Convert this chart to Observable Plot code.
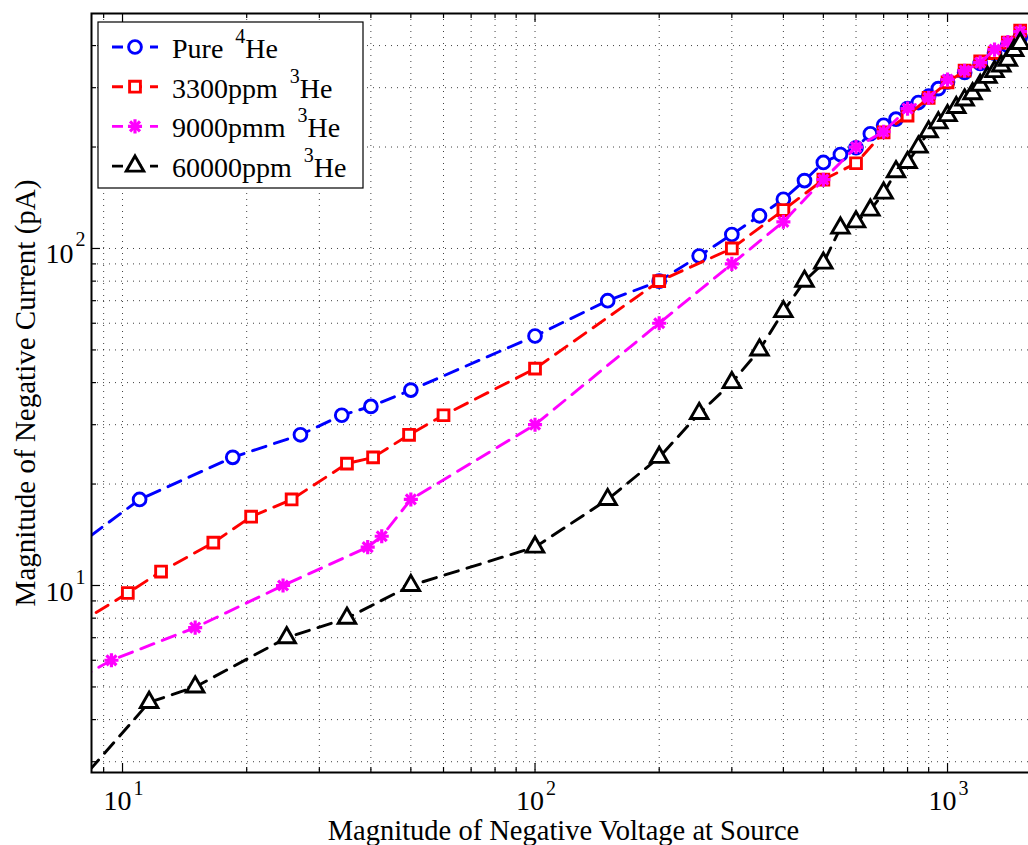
<!DOCTYPE html>
<html>
<head>
<meta charset="utf-8">
<script src="https://cdn.jsdelivr.net/npm/d3@7"></script>
<script src="https://cdn.jsdelivr.net/npm/@observablehq/plot@0.6"></script>
<style>
  html, body { margin: 0; padding: 0; background: #fff; overflow: hidden; }
  #chart svg { max-width: none !important; }
</style>
</head>
<body>
<div id="chart"></div>
<script>
// Measured negative current vs. source voltage for four helium mixtures.
const pureVoltage = [5, 11, 18.5, 27, 34, 40, 50, 100, 150, 200, 250, 300, 350, 400, 450, 500, 550, 600, 650, 700, 750, 800, 850, 900, 950, 1000, 1100, 1200, 1300, 1400, 1500];
const pureCurrent = [8.8, 18, 24, 28, 32, 34, 38, 55, 70, 80, 95, 110, 125, 140, 159, 180, 190, 199, 219, 232, 242, 260, 271, 283, 298, 312, 333, 354, 380, 400, 423];

const mix3300Voltage = [5, 10.3, 12.4, 16.6, 20.5, 25.7, 35, 40.5, 49.5, 60, 100, 200, 300, 400, 500, 600, 700, 800, 900, 1000, 1100, 1200, 1300, 1400, 1500];
const mix3300Current = [5.5, 9.5, 11, 13.4, 16, 18, 23, 24, 28, 32, 44, 80, 100, 130, 160, 179, 221, 248, 280, 311, 337, 359, 380, 408, 443];

const mix9000Voltage = [5, 9.4, 15, 24.5, 39.3, 42.5, 50, 100, 200, 300, 400, 500, 600, 700, 800, 900, 1000, 1100, 1200, 1300, 1400, 1500];
const mix9000Current = [3.9, 6, 7.5, 10, 13, 14, 18, 30, 60, 90, 120, 160, 200, 222, 260, 280, 317, 337, 356, 389, 410, 440];

const mix60000Voltage = [5, 11.6, 15, 25, 35, 50, 100, 150, 200, 250, 300, 350, 400, 450, 500, 550, 600, 650, 700, 750, 800, 850, 900, 950, 1000, 1050, 1100, 1150, 1200, 1250, 1300, 1350, 1400, 1450, 1500];
const mix60000Current = [1.39, 4.5, 5, 7, 8, 10, 13, 18, 24, 32.4, 40, 50, 65, 80, 90.5, 115, 120, 130, 146, 169, 180, 200, 222, 236, 248, 262, 276, 288, 305, 322, 335, 348, 362, 387, 406];

const legendNames = ["Pure", "3300ppm", "9000pmm", "60000ppm"];
const legendIsotopes = ["4", "3", "3", "3"];
const seriesColors = ["#0000ff", "#ff0000", "#ff00ff", "#000000"];

// Log axis ticks and grid
const xMajor = [10, 100, 1000];
const xMinor = [9, 20, 30, 40, 50, 60, 70, 80, 90, 200, 300, 400, 500, 600, 700, 800, 900];
const yMajor = [10, 100];
const yMinor = [3, 4, 5, 6, 7, 8, 9, 20, 30, 40, 50, 60, 70, 80, 90, 200, 300, 400];

const xLabel = "Magnitude of Negative Voltage at Source";
const yLabel = "Magnitude of Negative Current (pA)";

const rows = (vs, cs) => vs.map((v, i) => ({v, c: cs[i]}));
const series = [
  {rows: rows(pureVoltage, pureCurrent), color: seriesColors[0], kind: "circle"},
  {rows: rows(mix3300Voltage, mix3300Current), color: seriesColors[1], kind: "square"},
  {rows: rows(mix9000Voltage, mix9000Current), color: seriesColors[2], kind: "star"},
  {rows: rows(mix60000Voltage, mix60000Current), color: seriesColors[3], kind: "triangle"}
];

const W = 1040, H = 845;
const margin = {top: 13, right: 5, bottom: 73, left: 91};
const frameW = W - margin.left - margin.right;
const frameH = H - margin.top - margin.bottom;

const LW = 2.9;
const dash = "14,9";
const markerR = {circle: 6.4, square: 6.1, triangle: 6.5};
const starR = 4.6;

function markerMarks(s) {
  const base = {x: "v", y: "c", stroke: s.color, strokeWidth: LW, clip: true};
  if (s.kind === "star") {
    return [
      Plot.dot(s.rows, {...base, symbol: "plus", r: starR, fill: "none", strokeWidth: 3.2}),
      Plot.dot(s.rows, {...base, symbol: "times", r: starR, fill: "none", strokeWidth: 3.2}),
      Plot.dot(s.rows, {...base, symbol: "circle", r: 3.2, fill: s.color, strokeWidth: 1})
    ];
  }
  return [Plot.dot(s.rows, {...base, symbol: s.kind, r: markerR[s.kind], fill: "white"})];
}

const gridStyle = {stroke: "#000", strokeOpacity: 0.75, strokeWidth: 1, strokeDasharray: "1,5"};
const tickStyle = {stroke: "#000", strokeWidth: 1.2};
const serif = "'Liberation Serif', 'Times New Roman', serif";

const svg = Plot.plot({
  width: W,
  height: H,
  marginTop: margin.top,
  marginRight: margin.right,
  marginBottom: margin.bottom,
  marginLeft: margin.left,
  style: {fontFamily: serif, background: "white", color: "black", maxWidth: "none"},
  x: {type: "log", domain: [8.41, 1634], axis: null},
  y: {type: "log", domain: [2.787, 498], axis: null},
  marks: [
    Plot.ruleX([...xMajor, ...xMinor], {x: d => d, ...gridStyle}),
    Plot.ruleY([...yMajor, ...yMinor], {y: d => d, ...gridStyle}),
    // inward ticks on bottom, top and left edges
    Plot.ruleX(xMinor, {x: d => d, insetTop: frameH - 5, ...tickStyle}),
    Plot.ruleX(xMinor, {x: d => d, insetBottom: frameH - 5, ...tickStyle}),
    Plot.ruleX(xMajor, {x: d => d, insetTop: frameH - 9, ...tickStyle}),
    Plot.ruleX(xMajor, {x: d => d, insetBottom: frameH - 9, ...tickStyle}),
    Plot.ruleY(yMinor, {y: d => d, insetRight: frameW - 5, ...tickStyle}),
    Plot.ruleY(yMajor, {y: d => d, insetRight: frameW - 9, ...tickStyle}),
    ...series.flatMap(s => [
      Plot.line(s.rows, {x: "v", y: "c", stroke: s.color, strokeWidth: LW, strokeDasharray: dash, clip: true}),
      ...markerMarks(s)
    ]),
    Plot.frame({stroke: "black", strokeWidth: 2}),
    // tick labels as 10 with superscript exponent
    Plot.text(xMajor, {x: d => d, text: () => "10", frameAnchor: "bottom", textAnchor: "end", lineAnchor: "bottom", dx: 9, dy: 37, fontSize: 28}),
    Plot.text(xMajor, {x: d => d, text: d => String(Math.round(Math.log10(d))), frameAnchor: "bottom", textAnchor: "start", lineAnchor: "bottom", dx: 11, dy: 22, fontSize: 20}),
    Plot.text(yMajor, {y: d => d, text: () => "10", frameAnchor: "left", textAnchor: "end", lineAnchor: "bottom", dx: -18, dy: 15, fontSize: 28}),
    Plot.text(yMajor, {y: d => d, text: d => String(Math.round(Math.log10(d))), frameAnchor: "left", textAnchor: "start", lineAnchor: "bottom", dx: -16, dy: -2, fontSize: 20}),
    Plot.text([xLabel], {text: d => d, frameAnchor: "bottom", textAnchor: "middle", lineAnchor: "bottom", dy: 67, fontSize: 28.5}),
    Plot.text([yLabel], {text: d => d, frameAnchor: "left", textAnchor: "middle", rotate: -90, lineAnchor: "bottom", dx: -57, fontSize: 29})
  ]
});
svg.style.maxWidth = "none";

// Legend box in the upper-left corner of the axes
const legend = d3.select(svg).append("g")
  .attr("font-family", serif)
  .attr("text-anchor", "start");
const box = {x: 98, y: 22, w: 265, h: 166};
legend.append("rect")
  .attr("x", box.x).attr("y", box.y).attr("width", box.w).attr("height", box.h)
  .attr("fill", "white").attr("stroke", "black").attr("stroke-width", 1.2);

const symbolFor = {circle: d3.symbolCircle, square: d3.symbolSquare, triangle: d3.symbolTriangle};
series.forEach((s, i) => {
  const cy = box.y + 25 + i * 39.7;
  const cx = 135;
  legend.append("line")
    .attr("x1", 112).attr("x2", 158).attr("y1", cy).attr("y2", cy)
    .attr("stroke", s.color).attr("stroke-width", LW).attr("stroke-dasharray", "11,8");
  if (s.kind === "star") {
    const star = legend.append("g").attr("transform", `translate(${cx},${cy})`)
      .attr("stroke", s.color).attr("stroke-width", 3.2).attr("fill", "none");
    star.append("path").attr("d", d3.symbol(d3.symbolPlus, Math.PI * starR * starR)());
    star.append("path").attr("d", d3.symbol(d3.symbolTimes, Math.PI * starR * starR)());
    star.append("circle").attr("r", 3.2).attr("fill", s.color).attr("stroke-width", 1);
  } else {
    const r = markerR[s.kind];
    legend.append("path")
      .attr("transform", `translate(${cx},${cy})`)
      .attr("d", d3.symbol(symbolFor[s.kind], Math.PI * r * r)())
      .attr("fill", "white").attr("stroke", s.color).attr("stroke-width", LW);
  }
  const t = legend.append("text").attr("x", 172).attr("y", cy + 11).attr("font-size", 28).attr("fill", "black");
  t.append("tspan").text(legendNames[i] + " ");
  t.append("tspan").attr("dx", 5).attr("dy", -15).attr("font-size", 20).text(legendIsotopes[i]);
  t.append("tspan").attr("dy", 15).text("He");
});

document.getElementById("chart").appendChild(svg);
</script>
</body>
</html>
